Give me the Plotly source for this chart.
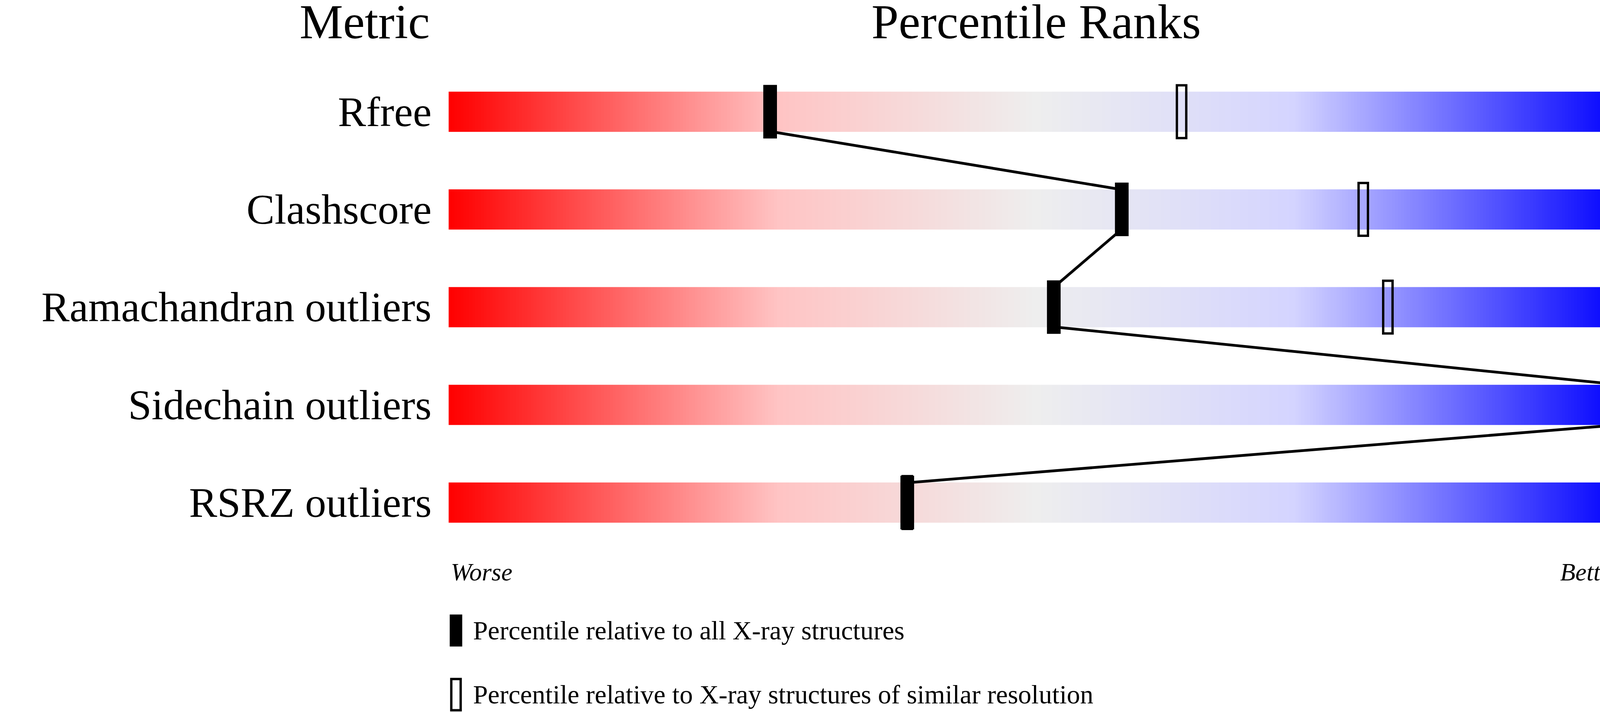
import plotly.graph_objects as go
import numpy as np

metrics = ["Rfree", "Clashscore", "Ramachandran outliers", "Sidechain outliers", "RSRZ outliers"]
values = ["0.264", "5", "0.1%", "0", "3.9%"]
pct_all = [27.3, 57.3, 51.5, 100.0, 39.0]
pct_similar = [62.4, 77.9, 80.0, 100.0, 39.0]

FONT = "Liberation Serif"
fig = go.Figure()
xs = np.linspace(0, 100, 401)
cs = [[0, '#ff0000'], [0.28, '#ffc4c4'], [0.5, '#eeeeee'], [0.72, '#d4d4ff'], [1, '#0000ff']]
half = 0.205
for i in range(len(metrics)):
    fig.add_trace(go.Heatmap(x=xs, y=[i - half, i + half], z=[xs], colorscale=cs,
                             zmin=0, zmax=100, showscale=False, hoverinfo="skip"))

mh = 0.27
shapes = []
for i in range(len(metrics)):
    p = pct_similar[i]
    shapes.append(dict(type="rect", x0=p - 0.4, x1=p + 0.4, y0=i - mh, y1=i + mh,
                       line=dict(color="black", width=6), fillcolor="rgba(0,0,0,0)"))
for i in range(len(metrics) - 1):
    shapes.append(dict(type="line", x0=pct_all[i], y0=i + mh * 0.75, x1=pct_all[i + 1], y1=i + 1 - mh * 0.75,
                       line=dict(color="black", width=7)))
for i in range(len(metrics)):
    p = pct_all[i]
    shapes.append(dict(type="rect", x0=p - 0.55, x1=p + 0.55, y0=i - mh, y1=i + mh,
                       line=dict(color="black", width=2), fillcolor="black"))
shapes.append(dict(type="rect", x0=0.0, x1=1.0, y0=5.31 - 0.16, y1=5.31 + 0.16,
                   line=dict(color="black", width=2), fillcolor="black"))
shapes.append(dict(type="rect", x0=0.1, x1=0.9, y0=5.966 - 0.16, y1=5.966 + 0.16,
                   line=dict(color="black", width=6), fillcolor="rgba(0,0,0,0)"))

ann = []
def t(x, y, s, size, xa="center", italic=False):
    ann.append(dict(x=x, y=y, text=(f"<i>{s}</i>" if italic else s), showarrow=False, xanchor=xa,
                    yanchor="middle", font=dict(family=FONT, size=size, color="black"), xref="x", yref="y"))
t(-7.3, -0.92, "Metric", 125)
t(50, -0.92, "Percentile Ranks", 125)
t(110.9, -0.92, "Value", 125, "right")
for i, m in enumerate(metrics):
    t(-1.5, i, m, 108, "right")
    t(101.5, i, values[i], 108, "left")
t(0, 4.71, "Worse", 64, "left", True)
t(100, 4.71, "Better", 64, "right", True)
t(1.9, 5.31, "Percentile relative to all X-ray structures", 68, "left")
t(1.9, 5.966, "Percentile relative to X-ray structures of similar resolution", 68, "left")

fig.update_layout(width=4485, height=1824, margin=dict(l=0, r=0, t=0, b=0),
                  plot_bgcolor="white", paper_bgcolor="white", shapes=shapes, annotations=ann,
                  xaxis=dict(range=[-38.4, 111.06], visible=False, fixedrange=True),
                  yaxis=dict(range=[6.144, -1.143], visible=False, fixedrange=True),
                  showlegend=False)
fig.write_html("out.html", config={"displayModeBar": False},
               post_script="document.body.style.margin='0';document.body.style.overflow='hidden';")
